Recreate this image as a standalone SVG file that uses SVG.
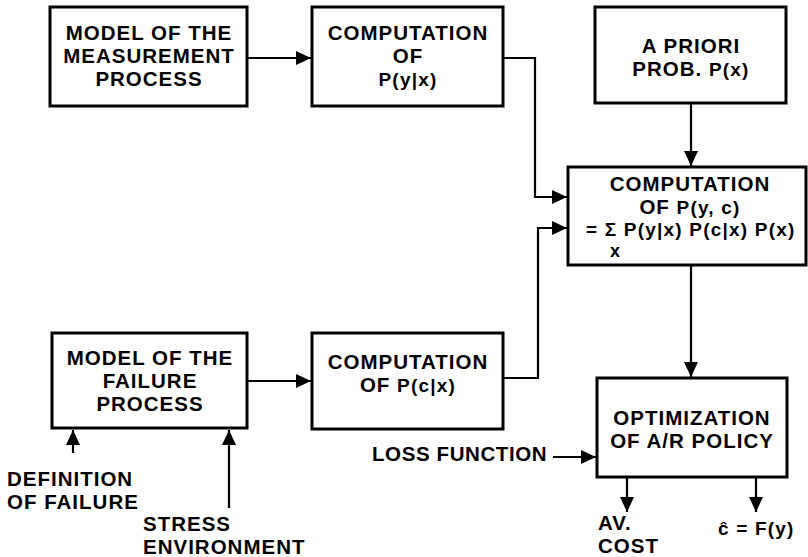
<svg xmlns="http://www.w3.org/2000/svg" width="808" height="557" viewBox="0 0 808 557">
<style>
.box{fill:#fff;stroke:#000;stroke-width:3}
.t{font-family:"Liberation Sans",Arial,sans-serif;font-weight:bold;font-size:20.5px;letter-spacing:1px;fill:#000}
.m{font-size:19px;letter-spacing:1.2px}
.c{text-anchor:middle}
.ln{fill:none;stroke:#000;stroke-width:2.2}
</style>
<defs>
<marker id="ah" markerUnits="userSpaceOnUse" markerWidth="16" markerHeight="14" refX="15" refY="7" orient="auto">
<path d="M0,0 L15,7 L0,14 Z" fill="#000"/>
</marker>
</defs>
<rect width="808" height="557" fill="#fff"/>
<g id="connectors">
<path class="ln" d="M248,58 H311" marker-end="url(#ah)"/>
<path class="ln" d="M503,58 H535 V197 H567" marker-end="url(#ah)"/>
<path class="ln" d="M691,103 V166" marker-end="url(#ah)"/>
<path class="ln" d="M503,378 H538 V228 H567" marker-end="url(#ah)"/>
<path class="ln" d="M248,381 H311" marker-end="url(#ah)"/>
<path class="ln" d="M691,266 V377" marker-end="url(#ah)"/>
<path class="ln" d="M73,453 V430" marker-end="url(#ah)"/>
<path class="ln" d="M229,508 V430" marker-end="url(#ah)"/>
<path class="ln" d="M553,457 H596" marker-end="url(#ah)"/>
<path class="ln" d="M627,478 V512" marker-end="url(#ah)"/>
<path class="ln" d="M756,478 V512" marker-end="url(#ah)"/>
</g>
<g id="measurement-model">
<rect class="box" x="50" y="7" width="197" height="99"/>
<text class="t c" x="149" y="40">MODEL OF THE</text>
<text class="t c" x="149" y="63">MEASUREMENT</text>
<text class="t c" x="149" y="86">PROCESS</text>
</g>
<g id="comp-pyx">
<rect class="box" x="312" y="7" width="191" height="99"/>
<text class="t c" x="408" y="40">COMPUTATION</text>
<text class="t c" x="408" y="63">OF</text>
<text class="t m c" x="408" y="86">P(y|x)</text>
</g>
<g id="a-priori">
<rect class="box" x="595" y="7" width="191" height="96"/>
<text class="t c" x="691" y="53">A PRIORI</text>
<text class="t c" x="691" y="76">PROB. <tspan class="m">P(x)</tspan></text>
</g>
<g id="comp-pyc">
<rect class="box" x="568" y="167" width="238" height="98"/>
<text class="t c" x="690" y="191">COMPUTATION</text>
<text class="t c" x="690" y="214">OF <tspan class="m">P(y, c)</tspan></text>
<text class="t m" x="586" y="236">= Σ P(y|x) P(c|x) P(x)</text>
<text class="t" x="610" y="257" style="font-size:18px">x</text>
</g>
<g id="failure-model">
<rect class="box" x="52" y="333" width="195" height="95"/>
<text class="t c" x="150" y="365">MODEL OF THE</text>
<text class="t c" x="150" y="388">FAILURE</text>
<text class="t c" x="150" y="411">PROCESS</text>
</g>
<g id="comp-pcx">
<rect class="box" x="312" y="333" width="191" height="96"/>
<text class="t c" x="408" y="369">COMPUTATION</text>
<text class="t c" x="408" y="392">OF <tspan class="m">P(c|x)</tspan></text>
</g>
<g id="optimization">
<rect class="box" x="597" y="378" width="190" height="99"/>
<text class="t c" x="692" y="425">OPTIMIZATION</text>
<text class="t c" x="692" y="448">OF A/R POLICY</text>
</g>
<g id="definition">
<text class="t" x="7" y="485.5">DEFINITION</text>
<text class="t" x="7" y="508.5">OF FAILURE</text>
</g>
<g id="stress">
<text class="t" x="143" y="530.5">STRESS</text>
<text class="t" x="143" y="553.5">ENVIRONMENT</text>
</g>
<g id="loss">
<text class="t" x="372" y="461" style="letter-spacing:0.6px">LOSS FUNCTION</text>
</g>
<g id="avcost">
<text class="t" x="598" y="530">AV.</text>
<text class="t" x="598" y="553">COST</text>
</g>
<g id="chat">
<text class="t m" x="718" y="535">ĉ = F(y)</text>
</g>
</svg>
